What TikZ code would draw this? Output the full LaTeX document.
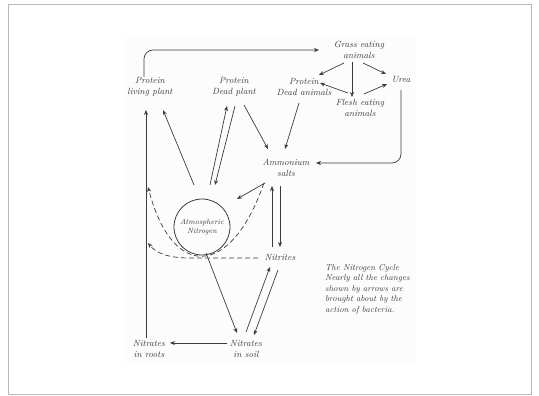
\documentclass[tikz,border=0pt]{standalone}
\usetikzlibrary{arrows.meta,positioning,calc}
\definecolor{cycleInk}{RGB}{60,60,60}
\definecolor{cycleFrame}{RGB}{185,185,185}
\definecolor{cyclePaper}{RGB}{252,252,252}

\begin{document}
\begin{tikzpicture}[x=1pt, y=-1pt,
    lbl/.style={font=\fontsize{9}{11}\selectfont\itshape, text=cycleInk, align=center, inner sep=1pt},
    ring/.style={circle, draw=cycleInk, line width=0.8pt, minimum size=56pt, inner sep=0pt,
                 font=\fontsize{7.5}{9.5}\selectfont\itshape, text=cycleInk, align=center},
    arr/.style={-{Stealth[length=5pt,width=4pt]}, cycleInk, line width=0.7pt},
    darr/.style={arr, dash pattern=on 5pt off 3pt}
  ]
  \useasboundingbox (0,0) rectangle (539,396);
  \draw[cycleFrame, line width=0.8pt] (8.5,4.5) rectangle (531,394.5);
  \fill[cyclePaper] (123,38) rectangle (416,362);

  % The nitrogen cycle
  \node[lbl] (livp)  at (150,87)  {Protein\\living plant};
  \node[lbl] (deadp) at (234,87)  {Protein\\Dead plant};
  \node[lbl] (deada) at (304,87)  {Protein\\Dead animals};
  \node[lbl] (grass) at (359,50)  {Grass eating\\animals};
  \node[lbl] (urea)  at (401,80)  {Urea};
  \node[lbl] (flesh) at (360,108) {Flesh eating\\animals};
  \node[lbl] (ammon) at (286,168) {Ammonium\\salts};
  \node[ring] (atmos) at (202,227) {Atmospheric\\Nitrogen};
  \node[lbl] (nitri) at (280,257) {Nitrites};
  \node[lbl] (soil)  at (246,349) {Nitrates\\in soil};
  \node[lbl] (roots) at (149,349) {Nitrates\\in roots};
  \node[lbl, font=\fontsize{8.5}{10.6}\selectfont\itshape, align=left, anchor=north west]
    (note) at (324,263) {The Nitrogen Cycle\\Nearly all the changes\\shown by arrows are\\brought about by the\\action of bacteria.};

  % Connections
  \draw[arr, rounded corners=9pt] ($(livp)+(-6,-10)$) |- ($(grass)+(-40,0)$);
  \draw[arr] ($(grass)+(-15,13)$) -- ($(deada)+(15,-12)$);
  \draw[arr] ($(grass)+(-7,12)$) -- ($(flesh)+(-8,-11)$);
  \draw[arr] ($(grass)+(4,13)$) -- ($(urea)+(-15,-6)$);
  \draw[arr] ($(flesh)+(4,-14)$) -- ($(urea)+(-14,4)$);
  \draw[arr] ($(flesh)+(-12,-15)$) -- ($(deada)+(16,-4)$);
  \draw[arr, rounded corners=9pt] ($(urea)+(0,10)$) |- ($(ammon)+(30,-5)$);
  \draw[arr] ($(deadp)+(10,18)$) -- ($(ammon)+(-18,-19)$);
  \draw[arr] ($(deada)+(-5,16)$) -- ($(ammon)+(-1,-19)$);
  \draw[arr] ($(atmos)+(-8,-42)$) -- ($(livp)+(13,23)$);
  \draw[arr] ($(atmos)+(8,-42)$) -- ($(deadp)+(-7,19)$);
  \draw[arr] ($(deadp)+(1,19)$) -- ($(atmos)+(13,-42)$);
  \draw[arr] ($(ammon)+(-21,15)$) -- ($(atmos)+(35,-28)$);
  \draw[arr] ($(nitri)+(-8,-10)$) -- ($(ammon)+(-14,18)$);
  \draw[arr] ($(ammon)+(-6,18)$) -- ($(nitri)+(0,-10)$);
  \draw[darr] ($(ammon)+(-22,15)$) .. controls +(-34,97) and +(24,92) .. ($(livp)+(-2,100)$);
  \draw[darr] ($(nitri)+(-22,1)$) -- ++(-68,0) .. controls +(-22,0) and +(8,10) .. ($(livp)+(-2,156)$);
  \draw[arr] ($(atmos)+(4,26)$) -- ($(soil)+(-9,-16)$);
  \draw[arr] ($(soil)+(0,-17)$) -- ($(nitri)+(-10,10)$);
  \draw[arr] ($(nitri)+(-2,13)$) -- ($(soil)+(8,-14)$);
  \draw[arr] ($(soil)+(-19,-6)$) -- ($(roots)+(21,-6)$);
  \draw[arr] ($(roots)+(-3,-11)$) -- ($(livp)+(-4,23)$);
\end{tikzpicture}
\end{document}
